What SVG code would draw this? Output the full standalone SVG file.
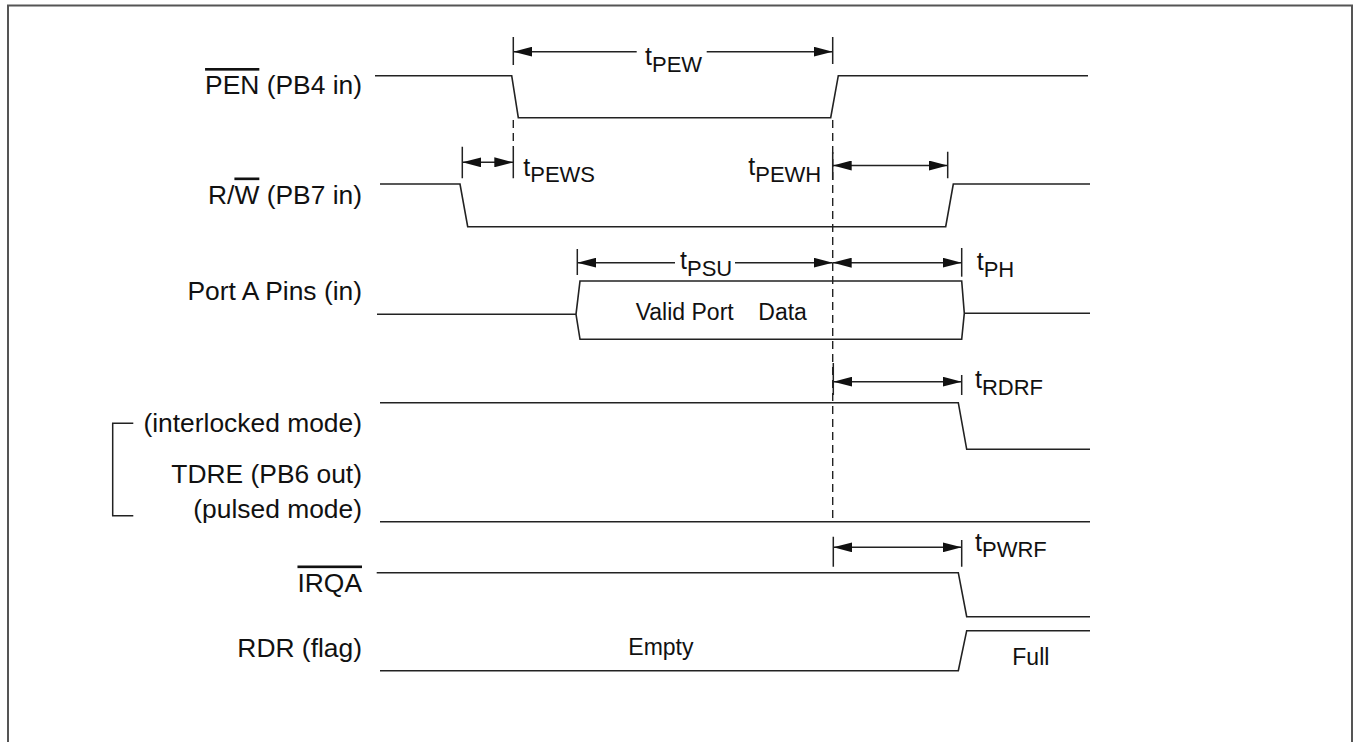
<svg xmlns="http://www.w3.org/2000/svg" width="1353" height="742" viewBox="0 0 1353 742">
<style>
.sig{fill:none;stroke:#222;stroke-width:1.6;stroke-linejoin:miter}
.tick{fill:none;stroke:#222;stroke-width:1.5}
.dim{fill:none;stroke:#222;stroke-width:1.4}
.dash{fill:none;stroke:#222;stroke-width:1.4;stroke-dasharray:8 5}
.lbl{font-family:"Liberation Sans",Arial,sans-serif;font-size:26.4px;fill:#111;text-anchor:end}
.tm{font-family:"Liberation Sans",Arial,sans-serif;font-size:23px;fill:#111}
.tt{font-family:"Liberation Sans",Arial,sans-serif;font-size:25px;fill:#111}
.sub{font-size:22px}
.ol{text-decoration:overline}
</style>
<defs>
<marker id="ah" viewBox="0 0 19 10" refX="19" refY="5" markerWidth="19" markerHeight="10" markerUnits="userSpaceOnUse" orient="auto-start-reverse">
<path d="M0,0 L19,5 L0,10 z" fill="#111"/>
</marker>
</defs>
<rect width="1353" height="742" fill="#fff"/>
<path d="M8,742 V5.6 H1352 V742" fill="none" stroke="#555" stroke-width="2"/>

<g id="pen">
<text class="lbl" x="362" y="94"><tspan class="ol">PEN</tspan> (PB4 in)</text>
<path class="sig" d="M375,75.7 H511.7 L518.3,117.7 H830.7 L838.3,75.7 H1088"/>
</g>
<g id="rw">
<text class="lbl" x="362" y="203.5">R/<tspan class="ol">W</tspan> (PB7 in)</text>
<path class="sig" d="M380,184 H460 L467.7,226.7 H945.7 L953.3,184 H1090"/>
</g>
<g id="porta">
<text class="lbl" x="362" y="300">Port A Pins (in)</text>
<path class="sig" d="M377,314.3 H576 M580,281 L576,314.3 L580,339.3 H961.7 L964.3,313.3 L961.7,281 Z M964.3,313.3 H1090"/>
<text class="tm" x="635.7" y="320">Valid Port<tspan x="758.3">Data</tspan></text>
</g>
<g id="tdre">
<text class="lbl" x="362" y="432">(interlocked mode)</text>
<text class="lbl" x="362" y="483.3">TDRE (PB6 out)</text>
<text class="lbl" x="362" y="518.3">(pulsed mode)</text>
<path class="tick" d="M133.3,423.3 H112.7 V515.7 H133.3"/>
<path class="sig" d="M380,402.7 H958.3 L966.7,449.3 H1090"/>
<path class="sig" d="M380,521.7 H1090"/>
</g>
<g id="irqa">
<text class="lbl" x="362" y="591.5"><tspan class="ol">IRQA</tspan></text>
<path class="sig" d="M376.7,572.7 H958.3 L966.7,616.7 H1090"/>
</g>
<g id="rdr">
<text class="lbl" x="362" y="656.7">RDR (flag)</text>
<path class="sig" d="M380,670.7 H958.3 L966.7,630.7 H1090"/>
<text class="tm" x="628.3" y="655">Empty</text>
<text class="tm" x="1012.3" y="665">Full</text>
</g>

<g id="connectors">
<path class="dash" d="M513.3,120 V147"/>
<path class="dash" d="M832.7,120 V522"/>
<!-- tPEW -->
<path class="tick" d="M513.3,37 V65 M832.7,37 V64"/>
<line class="dim" x1="513.3" y1="51.7" x2="636.7" y2="51.7" marker-start="url(#ah)"/>
<line class="dim" x1="706.7" y1="51.7" x2="832.7" y2="51.7" marker-end="url(#ah)"/>
<text class="tt" x="645" y="65">t<tspan class="sub" dy="6.7">PEW</tspan></text>
<!-- tPEWS -->
<path class="tick" d="M462.3,146.7 V178.3 M513.3,146.7 V178.3"/>
<line class="dim" x1="462.3" y1="162.3" x2="513.3" y2="162.3" marker-start="url(#ah)" marker-end="url(#ah)"/>
<text class="tt" x="523.3" y="175.5">t<tspan class="sub" dy="6.8">PEWS</tspan></text>
<!-- tPEWH -->
<path class="tick" d="M832.7,152 V180 M947.7,151.7 V178.3"/>
<line class="dim" x1="832.7" y1="165.5" x2="947.7" y2="165.5" marker-start="url(#ah)" marker-end="url(#ah)"/>
<text class="tt" x="748.3" y="174.8">t<tspan class="sub" dy="6.9">PEWH</tspan></text>
<!-- tPSU -->
<path class="tick" d="M577.3,249 V275"/>
<line class="dim" x1="577.3" y1="262.7" x2="675" y2="262.7" marker-start="url(#ah)"/>
<line class="dim" x1="735" y1="262.7" x2="832.7" y2="262.7" marker-end="url(#ah)"/>
<text class="tt" x="680" y="269.3">t<tspan class="sub" dy="6.7">PSU</tspan></text>
<!-- tPH -->
<path class="tick" d="M961.7,248 V276.7"/>
<line class="dim" x1="832.7" y1="262.7" x2="961.7" y2="262.7" marker-start="url(#ah)" marker-end="url(#ah)"/>
<text class="tt" x="976.7" y="270">t<tspan class="sub" dy="6.7">PH</tspan></text>
<!-- tRDRF -->
<path class="tick" d="M833.3,363 V395 M961.7,375 V395"/>
<line class="dim" x1="833.3" y1="381.7" x2="961.7" y2="381.7" marker-start="url(#ah)" marker-end="url(#ah)"/>
<text class="tt" x="975" y="388.3">t<tspan class="sub" dy="6.7">RDRF</tspan></text>
<!-- tPWRF -->
<path class="tick" d="M833.3,536.7 V566.7 M961.7,540 V566.7"/>
<line class="dim" x1="833.3" y1="547.3" x2="961.7" y2="547.3" marker-start="url(#ah)" marker-end="url(#ah)"/>
<text class="tt" x="975" y="551">t<tspan class="sub" dy="5.7">PWRF</tspan></text>
</g>
</svg>
